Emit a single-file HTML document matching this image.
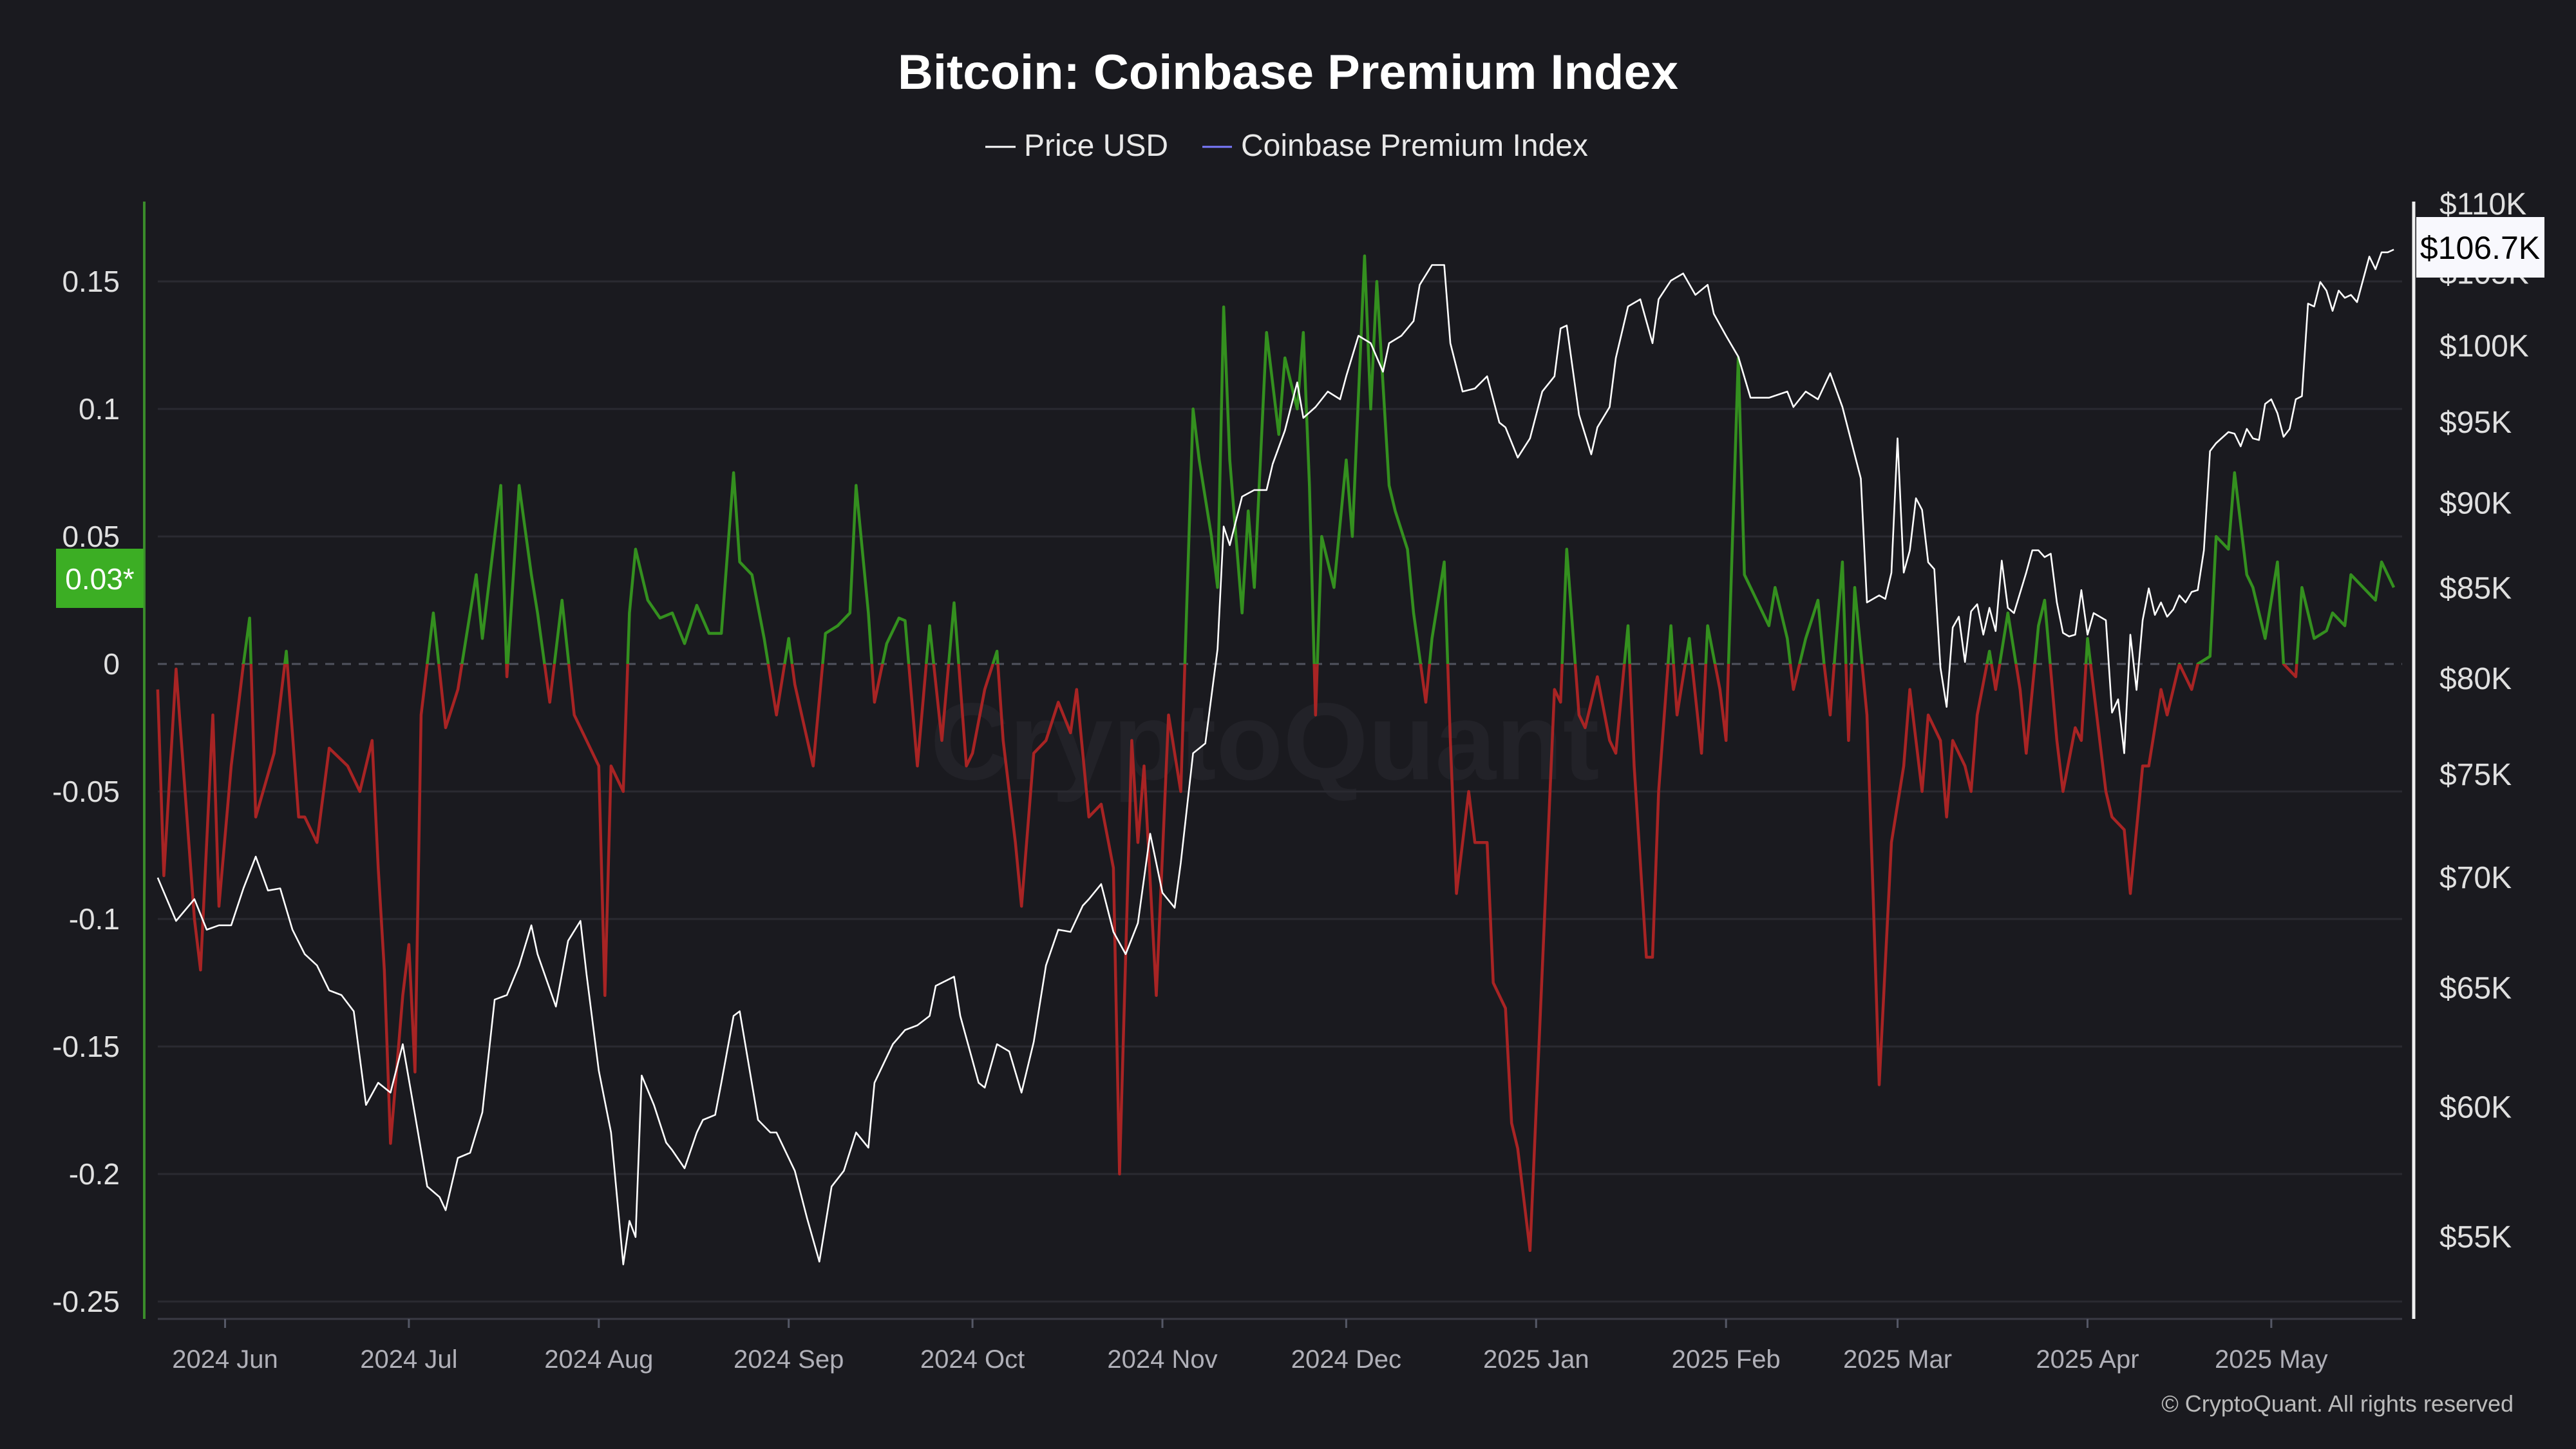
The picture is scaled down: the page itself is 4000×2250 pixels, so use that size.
<!DOCTYPE html>
<html><head><meta charset="utf-8"><style>
html,body{margin:0;padding:0;background:#1a1a1f;}
svg{display:block;font-family:"Liberation Sans",sans-serif;}
</style></head><body>
<svg id="chart" width="4000" height="2250" viewBox="0 0 4000 2250" xmlns="http://www.w3.org/2000/svg">
<rect width="4000" height="2250" fill="#1a1a1f"/>
<text x="2000" y="138" text-anchor="middle" fill="#ffffff" font-size="76" font-weight="bold">Bitcoin: Coinbase Premium Index</text>
<g>
<g><line x1="1530" y1="228" x2="1577" y2="228" stroke="#ffffff" stroke-width="3"/><text x="1590" y="242" fill="#e8e8e8" font-size="48">Price USD</text></g>
<g><line x1="1867" y1="228" x2="1913" y2="228" stroke="#7b7bff" stroke-width="3"/><text x="1927" y="242" fill="#e8e8e8" font-size="48">Coinbase Premium Index</text></g>
</g>
<text x="1964" y="1210" text-anchor="middle" fill="#222228" font-size="170" font-weight="bold">CryptoQuant</text>
<g id="grid"></g>
<g id="axes"></g>
<g id="series"></g>
<text x="3903" y="2192" text-anchor="end" fill="#bbbbbb" font-size="36">© CryptoQuant. All rights reserved</text>
</svg>
<script>
const premDays=[-11,-10,-8,-5,-4,-2,-1,1,3,4,5,8,10,12,13,15,17,20,22,24,25,26,27,29,30,31,32,34,36,38,41,42,45,46,48,50,51,53,55,57,59,61,62,63,65,66,67,69,71,73,75,77,79,81,83,84,86,88,90,92,93,96,98,100,102,103,105,106,108,110,111,113,115,117,119,121,122,124,126,127,129,130,132,134,136,138,139,141,143,145,146,148,149,150,152,154,156,158,159,161,162,163,164,166,167,168,170,172,173,175,176,177,178,179,181,183,184,186,187,188,190,191,193,194,196,197,199,200,201,203,204,206,207,209,210,211,213,215,217,218,219,221,222,224,226,227,229,230,232,233,234,236,237,239,241,242,244,245,247,248,250,252,253,255,256,258,260,261,262,264,265,266,268,269,270,272,274,275,277,278,280,281,282,284,285,286,288,289,291,293,294,296,297,299,300,302,303,304,307,308,310,311,313,314,316,317,319,321,322,324,325,327,328,330,331,333,335,336,338,339,341,343,344,346,347,349,351,352,354];
const premVals=[-0.01,-0.083,-0.002,-0.1,-0.12,-0.02,-0.095,-0.04,0.0,0.018,-0.06,-0.035,0.005,-0.06,-0.06,-0.07,-0.033,-0.04,-0.05,-0.03,-0.08,-0.12,-0.188,-0.13,-0.11,-0.16,-0.02,0.02,-0.025,-0.01,0.035,0.01,0.07,-0.005,0.07,0.035,0.02,-0.015,0.025,-0.02,-0.03,-0.04,-0.13,-0.04,-0.05,0.02,0.045,0.025,0.018,0.02,0.008,0.023,0.012,0.012,0.075,0.04,0.035,0.01,-0.02,0.01,-0.008,-0.04,0.012,0.015,0.02,0.07,0.02,-0.015,0.008,0.018,0.017,-0.04,0.015,-0.03,0.024,-0.04,-0.035,-0.01,0.005,-0.03,-0.07,-0.095,-0.035,-0.03,-0.015,-0.027,-0.01,-0.06,-0.055,-0.08,-0.2,-0.03,-0.07,-0.04,-0.13,-0.02,-0.05,0.1,0.08,0.05,0.03,0.14,0.08,0.02,0.06,0.03,0.13,0.09,0.12,0.1,0.13,0.07,-0.02,0.05,0.03,0.08,0.05,0.16,0.1,0.15,0.07,0.06,0.045,0.02,-0.015,0.01,0.04,-0.03,-0.09,-0.05,-0.07,-0.07,-0.125,-0.135,-0.18,-0.19,-0.23,-0.12,-0.01,-0.015,0.045,-0.02,-0.025,-0.005,-0.03,-0.035,0.015,-0.04,-0.115,-0.115,-0.05,0.015,-0.02,0.01,-0.035,0.015,-0.01,-0.03,0.12,0.035,0.025,0.015,0.03,0.01,-0.01,0.01,0.025,0.0,-0.02,0.04,-0.03,0.03,-0.02,-0.09,-0.165,-0.07,-0.04,-0.01,-0.05,-0.02,-0.03,-0.06,-0.03,-0.04,-0.05,-0.02,0.005,-0.01,0.02,-0.01,-0.035,0.015,0.025,-0.03,-0.05,-0.025,-0.03,0.01,-0.05,-0.06,-0.065,-0.09,-0.04,-0.04,-0.01,-0.02,0.0,-0.01,0.0,0.003,0.05,0.045,0.075,0.035,0.03,0.01,0.04,0.0,-0.005,0.03,0.01,0.013,0.02,0.015,0.035,0.03,0.025,0.04,0.03];
const priceDays=[-11,-8,-5,-3,-1,1,3,5,7,9,11,13,15,17,19,21,23,25,27,29,31,33,35,36,38,40,42,44,46,48,50,51,54,56,58,59,61,63,65,66,67,68,70,72,73,75,77,78,80,81,83,84,87,89,90,93,95,97,99,101,103,105,106,109,111,113,115,116,119,120,123,124,126,128,130,132,134,136,138,140,141,143,145,147,149,151,153,155,156,158,160,162,163,164,166,168,170,171,173,175,176,178,180,182,183,185,187,189,190,192,194,195,197,199,200,202,204,206,208,209,211,213,215,217,218,219,221,223,224,226,227,229,231,233,234,236,238,240,242,243,245,247,249,250,252,255,256,258,260,262,264,267,268,270,271,272,273,274,275,276,277,278,279,280,281,282,283,284,285,286,287,288,289,290,291,292,294,295,296,297,298,299,300,301,302,303,304,305,307,308,309,310,311,312,313,314,315,316,317,318,319,320,321,322,323,324,325,327,328,329,330,331,332,333,334,335,336,337,338,339,340,341,342,343,344,345,346,347,348,350,351,352,353,354];
const priceK=[70,68,69,67.6,67.8,67.8,69.5,71,69.4,69.5,67.6,66.5,66,64.9,64.7,64,60.1,61,60.6,62.6,59.7,56.9,56.5,56,58,58.2,59.8,64.5,64.7,66,67.8,66.5,64.2,67.1,68,65.6,61.5,59,54,55.6,55,61.3,60.1,58.6,58.3,57.6,59,59.5,59.7,61,63.8,64,59.5,59,59,57.5,55.7,54.1,56.9,57.5,59,58.4,61,62.6,63.2,63.4,63.8,65.1,65.5,63.8,61,60.8,62.6,62.3,60.6,62.7,66,67.6,67.5,68.7,69,69.7,67.5,66.5,67.9,72.1,69.3,68.6,70.7,76.1,76.6,81.6,88.6,87.5,90.4,90.8,90.8,92.4,94.5,97.6,95.3,96,97,96.5,98,100.7,100.2,98.3,100.2,100.7,101.7,104.2,105.6,105.6,100.2,97,97.2,98,95,94.7,92.8,94,97,98,101.2,101.4,95.5,93,94.7,96,99.2,102.7,103.2,100.2,103.2,104.5,105,103.5,104.2,102.2,100.7,99.3,96.6,96.6,96.6,97,96,97,96.5,98.2,96,91.5,84.2,84.6,84.4,85.9,94,85.9,87.2,90.3,89.6,86.5,86.1,80.6,78.5,82.8,83.4,80.9,83.7,84.1,82.4,83.9,82.6,86.6,83.9,83.6,85.9,87.2,87.2,86.8,87,84.2,82.5,82.3,82.4,84.9,82.4,83.6,83.2,78.2,78.9,76.1,82.4,79.4,83.2,85,83.5,84.2,83.4,83.8,84.6,84.2,84.8,84.9,87.2,93.2,93.7,94.4,94.3,93.5,94.6,94,93.9,96.2,96.5,95.6,94.1,94.6,96.5,96.7,102.9,102.7,104.4,103.8,102.4,103.8,103.3,103.5,103,106.2,105.3,106.5,106.5,106.7];
const premTicks=[0.15,0.1,0.05,0,-0.05,-0.1,-0.15,-0.2,-0.25];
const premTickLabels=["0.15","0.1","0.05","0","-0.05","-0.1","-0.15","-0.2","-0.25"];
const priceTicks=[110,105,100,95,90,85,80,75,70,65,60,55];
const monthDays=[0,30,61,92,122,153,183,214,245,273,304,334];
const monthLabels=["2024 Jun","2024 Jul","2024 Aug","2024 Sep","2024 Oct","2024 Nov","2024 Dec","2025 Jan","2025 Feb","2025 Mar","2025 Apr","2025 May"];
const lastPremium="0.03*";
const lastPrice="$106.7K";

const NS="http://www.w3.org/2000/svg";
const X0=245,X1=3730,YT=313,YB=2048;
function xs(d){return 349.5+d*9.513;}
function yPrem(v){return 1031-v*3960;}
function yPrice(p){return 317+2314*Math.log(110/p);}
function mk(tag,attrs,parent){const e=document.createElementNS(NS,tag);for(const k in attrs)e.setAttribute(k,attrs[k]);parent.appendChild(e);return e;}
const grid=document.getElementById('grid'),axes=document.getElementById('axes'),series=document.getElementById('series');

premTicks.forEach((t,i)=>{
  const y=yPrem(t);
  const l=mk('line',{x1:X0,x2:X1,y1:y,y2:y,stroke:t===0?'#50535e':'#2a2a31','stroke-width':t===0?3:3,'stroke-dasharray':t===0?'14 12':'none'},grid);
  
  
  const tx=mk('text',{x:186,y:y+16,'text-anchor':'end',fill:'#e0e0e0','font-size':46},axes);
  tx.textContent=premTickLabels[i];
  
  
});
priceTicks.forEach(p=>{
  const tx=mk('text',{x:3788,y:yPrice(p)+16,fill:'#e0e0e0','font-size':48},axes);
  tx.textContent='$'+p+'K';
  
  
});
const bl=mk('line',{x1:X0,x2:X1,y1:YB,y2:YB,stroke:'#3a3a44','stroke-width':3},axes);


monthDays.forEach((d,i)=>{
  const x=xs(d);
  const t=mk('line',{x1:x,x2:x,y1:YB,y2:YB+14,stroke:'#555866','stroke-width':3},axes);
  
  
  const tx=mk('text',{x:x,y:2124,'text-anchor':'middle',fill:'#b0b0b8','font-size':40},axes);
  tx.textContent=monthLabels[i];
  
  
});
const la=mk('line',{x1:224,x2:224,y1:YT,y2:YB,stroke:'#3a8c2a','stroke-width':4},axes);


const ra=mk('line',{x1:3748,x2:3748,y1:YT,y2:YB,stroke:'#f0f0f0','stroke-width':5},axes);



// clips
const defs=mk('defs',{},series);
const cpA=mk('clipPath',{id:'above'},defs);mk('rect',{x:0,y:0,width:4000,height:yPrem(0)},cpA);
const cpB=mk('clipPath',{id:'below'},defs);mk('rect',{x:0,y:yPrem(0),width:4000,height:2250},cpB);
let dP=premDays.map((d,i)=>(i?'L':'M')+xs(d).toFixed(1)+' '+yPrem(premVals[i]).toFixed(1)).join(' ');
const pg=mk('path',{d:dP,fill:'none',stroke:'#34901f','stroke-width':4.5,'stroke-linejoin':'round','clip-path':'url(#above)'},series);


const pr=mk('path',{d:dP,fill:'none',stroke:'#a82424','stroke-width':4.5,'stroke-linejoin':'round','clip-path':'url(#below)'},series);


let dQ=priceDays.map((d,i)=>(i?'L':'M')+xs(d).toFixed(1)+' '+yPrice(priceK[i]).toFixed(1)).join(' ');
const pl=mk('path',{d:dQ,fill:'none',stroke:'#ffffff','stroke-width':2.6,'stroke-linejoin':'round'},series);



// badges
const lb=mk('g',{},series);


mk('rect',{x:87,y:852,width:136,height:92,fill:'#3cae24'},lb);
const lbt=mk('text',{x:155,y:915,'text-anchor':'middle',fill:'#ffffff','font-size':46},lb);lbt.textContent=lastPremium;
const rb=mk('g',{},series);


mk('rect',{x:3752,y:337,width:199,height:94,fill:'#f8f8fd'},rb);
const rbt=mk('text',{x:3851,y:402,'text-anchor':'middle',fill:'#000000','font-size':50},rb);rbt.textContent=lastPrice;
</script>
</body></html>
